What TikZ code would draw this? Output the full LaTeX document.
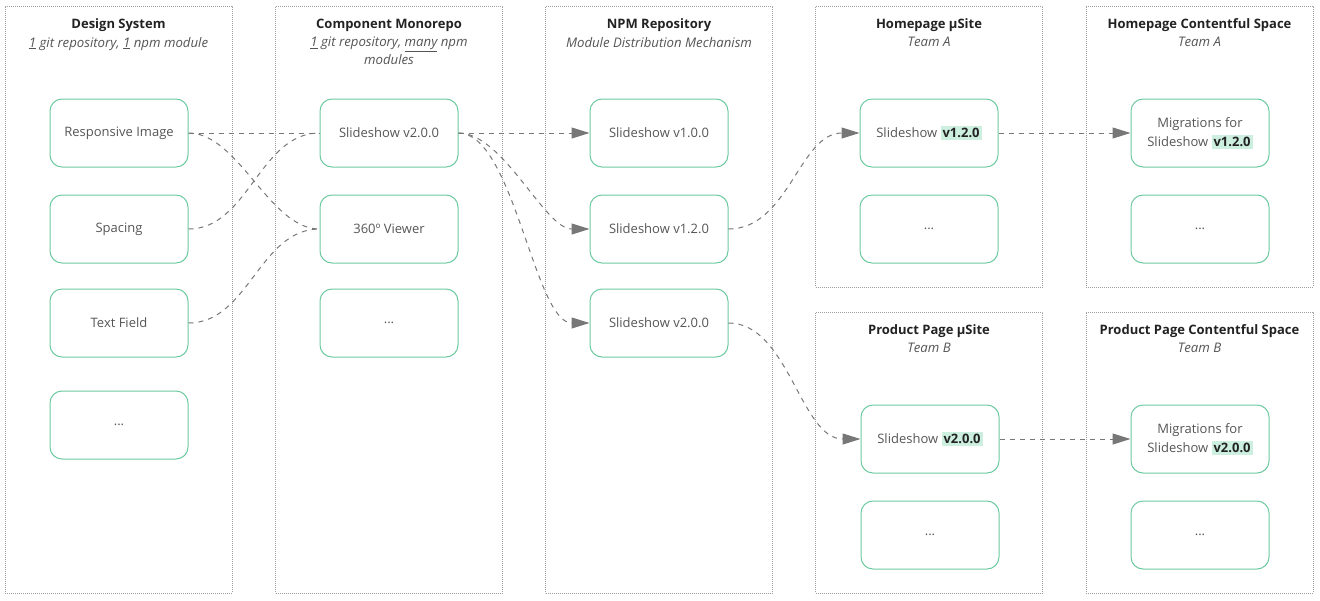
\documentclass[tikz,border=0pt]{standalone}
\usepackage{fontspec}
\setmainfont{Open Sans}
\usetikzlibrary{arrows.meta}
\definecolor{mint}{HTML}{6CC9A0}
\definecolor{hl}{HTML}{CDEFDF}
\definecolor{txt}{HTML}{555555}
\definecolor{ttl}{HTML}{222222}
\definecolor{conn}{HTML}{777777}
\newcommand{\hv}[1]{{\setlength{\fboxsep}{2pt}\colorbox{hl}{\textcolor{ttl}{\bfseries #1}}}}
\begin{document}
\begin{tikzpicture}[x=1pt,y=-1pt,
  colbox/.style={draw=gray!75, line width=0.6pt, dash pattern=on 0.8pt off 1.2pt, minimum width=227pt, inner sep=0pt},
  comp/.style={draw=mint, line width=1pt, rounded corners=12pt, minimum width=138pt, minimum height=68pt, align=center, text=txt, font=\fontsize{13}{19}\selectfont, inner sep=2pt},
  title/.style={text=ttl, font=\fontsize{13}{16}\selectfont\bfseries, inner sep=0pt},
  sub/.style={text=txt, font=\fontsize{13.2}{18}\selectfont\itshape, align=center, inner sep=0pt, anchor=north},
  link/.style={draw=conn, line width=1pt, dash pattern=on 5pt off 5pt},
  arr/.style={link, -{Triangle[length=18pt,width=11pt,fill=conn]}}
]
\useasboundingbox (0,0) rectangle (1320,600);
% column boxes
\node[colbox, minimum height=587pt] (c1) at (118.5,299.5) {};
\node[colbox, minimum height=587pt] (c2) at (389,299.5) {};
\node[colbox, minimum height=587pt] (c3) at (659,299.5) {};
\node[colbox, minimum height=281pt] (c4) at (929,146.5) {};
\node[colbox, minimum height=281pt] (c5) at (1199.5,146.5) {};
\node[colbox, minimum height=281pt] (c6) at (929,452.5) {};
\node[colbox, minimum height=281pt] (c7) at (1199.5,452.5) {};
% titles
\node[title] (t1) at (118.5,25) {Design System};
\node[sub] (s1) at (118.5,37) {\underline{1} git repository, \underline{1} npm module};
\node[title] (t2) at (389,25) {Component Monorepo};
\node[sub] (s2) at (389,37) {\underline{1} git repository, \underline{many} npm\\modules};
\node[title] (t3) at (659,25) {NPM Repository};
\node[sub] (s3) at (659,37) {Module Distribution Mechanism};
\node[title] (t4) at (929,25) {Homepage µSite};
\node[sub] (s4) at (929,37) {Team A};
\node[title] (t5) at (1199.5,25) {Homepage Contentful Space};
\node[sub] (s5) at (1199.5,37) {Team A};
\node[title] (t6) at (929,331) {Product Page µSite};
\node[sub] (s6) at (929,343) {Team B};
\node[title] (t7) at (1199.5,331) {Product Page Contentful Space};
\node[sub] (s7) at (1199.5,343) {Team B};
% components
\node[comp] (ri) at (119,133) {Responsive Image};
\node[comp] (sp) at (119,229) {Spacing};
\node[comp] (tf) at (119,323) {Text Field};
\node[comp] (d1) at (119,425) {...};
\node[comp] (ss) at (389,133) {Slideshow v2.0.0};
\node[comp] (vw) at (389,229) {360º Viewer};
\node[comp] (d2) at (389,323) {...};
\node[comp] (n1) at (659,133) {Slideshow v1.0.0};
\node[comp] (n2) at (659,229) {Slideshow v1.2.0};
\node[comp] (n3) at (659,323) {Slideshow v2.0.0};
\node[comp] (h1) at (929,133) {Slideshow \hv{v1.2.0}};
\node[comp] (hd) at (929,229) {...};
\node[comp] (m1) at (1200,133) {Migrations for\\Slideshow \hv{v1.2.0}};
\node[comp] (md) at (1200,229) {...};
\node[comp] (p1) at (930,439) {Slideshow \hv{v2.0.0}};
\node[comp] (pd) at (930,535) {...};
\node[comp] (m2) at (1200,439) {Migrations for\\Slideshow \hv{v2.0.0}};
\node[comp] (m2d) at (1200,535) {...};
% left links
\draw[link] (ri.east) -- (ss.west);
\draw[link] (ri.east) .. controls +(50,0) and +(-50,0) .. (vw.west);
\draw[link] (sp.east) .. controls +(60,0) and +(-60,0) .. (ss.west);
\draw[link] (tf.east) .. controls +(60,0) and +(-60,0) .. (vw.west);
% arrows
\draw[arr] (ss.east) -- (n1.west);
\draw[arr] (ss.east) .. controls +(45,0) and +(-45,0) .. (n2.west);
\draw[arr] (ss.east) .. controls +(55,0) and +(-55,0) .. (n3.west);
\draw[arr] (n2.east) .. controls +(60,0) and +(-60,0) .. (h1.west);
\draw[arr] (h1.east) -- (m1.west);
\draw[arr] (n3.east) .. controls +(60,0) and +(-60,0) .. (p1.west);
\draw[arr] (p1.east) -- (m2.west);
\end{tikzpicture}
\end{document}
